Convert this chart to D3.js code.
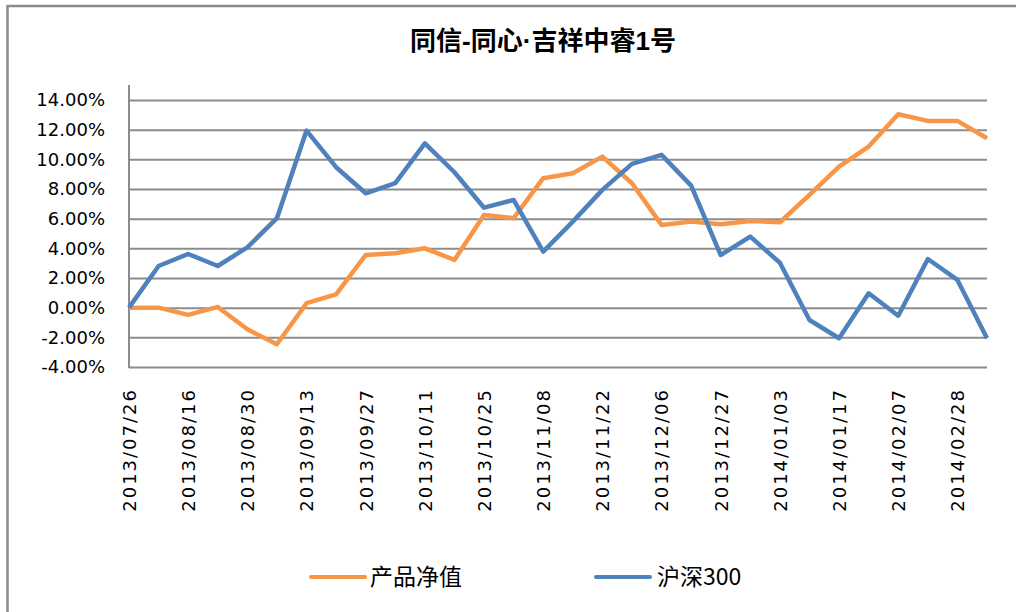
<!DOCTYPE html>
<html><head><meta charset="utf-8">
<script src="https://cdn.jsdelivr.net/npm/d3@7"></script>
<style>body{margin:0;background:#fff}svg{display:block}</style>
</head><body>
<svg id="c" width="1016" height="612"></svg>
<script>
const title = "同信-同心·吉祥中睿1号";
const dates = ["2013/07/26","2013/08/09","2013/08/16","2013/08/23","2013/08/30","2013/09/06","2013/09/13","2013/09/18","2013/09/27","2013/09/30",
  "2013/10/11","2013/10/18","2013/10/25","2013/11/01","2013/11/08","2013/11/15","2013/11/22","2013/11/29","2013/12/06","2013/12/13",
  "2013/12/27","2013/12/31","2014/01/03","2014/01/10","2014/01/17","2014/01/24","2014/02/07","2014/02/14","2014/02/28","2014/03/07"];
const seriesNames = ["产品净值","沪深300"];
const product = [0.0,0.0,-0.49,0.05,-1.46,-2.47,0.30,0.90,3.55,3.67,
  4.00,3.22,6.25,6.03,8.73,9.06,10.18,8.39,5.58,5.80,
  5.62,5.85,5.76,7.60,9.51,10.86,13.04,12.59,12.59,11.42];
const hs300 = [0.0,2.81,3.62,2.81,4.07,6.03,11.94,9.47,7.71,8.39,
  11.08,9.13,6.74,7.26,3.78,5.80,7.94,9.69,10.30,8.23,
  3.55,4.79,3.03,-0.83,-2.06,0.97,-0.54,3.28,1.87,-2.06];
const yTicks = [-4,-2,0,2,4,6,8,10,12,14];
const colors = ["#F79646","#4F81BD"];

const svg = d3.select("#c");
svg.append("rect").attr("width",1016).attr("height",612).attr("fill","#fff");
svg.append("rect").attr("x",7.5).attr("y",6).attr("width",1040).attr("height",640)
  .attr("fill","none").attr("stroke","#8a8a8a").attr("stroke-width",2.5);

const x = d3.scalePoint().domain(dates).range([129,987]);
const y = d3.scaleLinear().domain([-4,14]).range([367,100]);

svg.append("text").attr("x",543).attr("y",50).attr("text-anchor","middle")
  .attr("font-family","'Liberation Sans','Noto Sans CJK SC'").attr("font-weight","bold").attr("font-size",26)
  .attr("fill","#000").text(title);

// gridlines
const gy = svg.append("g").attr("transform","translate(129,0)")
  .call(d3.axisRight(y).tickValues(yTicks).tickSize(858).tickFormat(""));
gy.select(".domain").remove();
gy.selectAll(".tick line").attr("stroke","#8c8c8c").attr("stroke-width",2);

// y axis labels
const ya = svg.append("g").attr("transform","translate(129,0)")
  .call(d3.axisLeft(y).tickValues(yTicks).tickSize(0).tickPadding(24).tickFormat(d=>d.toFixed(2)+"%"));
ya.select(".domain").remove();
ya.selectAll("text").attr("font-family","'DejaVu Sans'").attr("font-size",18).attr("fill","#000");
svg.append("line").attr("x1",129).attr("x2",129).attr("y1",85).attr("y2",368)
  .attr("stroke","#8c8c8c").attr("stroke-width",2);

// x labels
const shown = dates.filter((d,i)=>i%2===0);
const xa = svg.append("g").attr("transform","translate(0,367)")
  .call(d3.axisBottom(x).tickValues(shown).tickSize(0).tickFormat(d=>d));
xa.select(".domain").remove();
xa.selectAll("text").attr("font-family","'DejaVu Sans'").attr("font-size",18).attr("fill","#000")
  .attr("letter-spacing","2px").attr("text-anchor","end")
  .attr("transform","translate(0,21) rotate(-90)").attr("x",0).attr("y",0).attr("dy","0.35em");

const line = d3.line().x((d,i)=>x(dates[i])).y(d=>y(d));
[product,hs300].forEach((s,k)=>{
  svg.append("path").datum(s).attr("d",line).attr("fill","none")
    .attr("stroke",colors[k]).attr("stroke-width",4.5).attr("stroke-linejoin","round");
});

// legend
const lg = [{x:311,tx:370},{x:596,tx:657}];
seriesNames.forEach((n,k)=>{
  svg.append("line").attr("x1",lg[k].x).attr("x2",lg[k].x+54).attr("y1",577).attr("y2",577)
    .attr("stroke",colors[k]).attr("stroke-width",4).attr("stroke-linecap","round");
  svg.append("text").attr("x",lg[k].tx).attr("y",585).attr("font-family","'Noto Sans CJK SC'")
    .attr("font-size",23).attr("fill","#000").text(n);
});
</script>
</body></html>
